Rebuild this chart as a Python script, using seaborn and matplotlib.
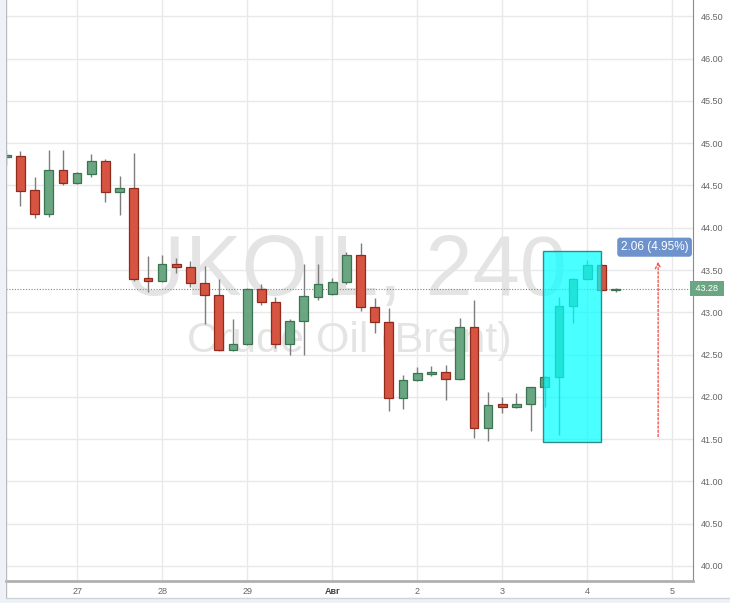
import numpy as np
import matplotlib
matplotlib.use("Agg")
import matplotlib.pyplot as plt
from matplotlib.patches import Rectangle
from matplotlib.lines import Line2D
import matplotlib.transforms as mtransforms
import seaborn as sns

# UKOIL 4h candles, 26 Jul - 4 Aug
opens  = [44.84, 44.85, 44.45, 44.16, 44.68, 44.53, 44.64, 44.79, 44.42, 44.47,
          43.40, 43.37, 43.57, 43.54, 43.35, 43.21, 42.55, 42.62, 43.27, 43.12,
          42.62, 42.90, 43.18, 43.22, 43.36, 43.68, 43.06, 42.88, 41.98, 42.20,
          42.27, 42.29, 42.21, 42.82, 41.63, 41.91, 41.88, 41.92, 42.11, 42.23,
          43.07, 43.39, 43.56, 43.26]
highs  = [44.92, 44.91, 44.60, 44.92, 44.92, 44.66, 44.87, 44.81, 44.61, 44.88,
          43.67, 43.68, 43.64, 43.61, 43.55, 43.39, 42.92, 43.29, 43.34, 43.18,
          42.92, 43.57, 43.57, 43.40, 43.71, 43.82, 43.17, 43.05, 42.26, 42.35,
          42.36, 42.38, 42.93, 43.15, 42.06, 42.00, 42.04, 42.12, 42.24, 43.18,
          43.40, 43.62, 43.58, 43.29]
lows   = [44.74, 44.26, 44.11, 44.13, 44.50, 44.52, 44.60, 44.31, 44.15, 43.37,
          43.24, 43.36, 43.47, 43.30, 42.86, 42.54, 42.54, 42.61, 43.09, 42.58,
          42.49, 42.50, 43.14, 43.21, 43.34, 43.02, 42.75, 41.83, 41.85, 42.19,
          42.25, 41.96, 42.20, 41.51, 41.48, 41.81, 41.87, 41.60, 41.88, 41.55,
          42.87, 43.39, 43.24, 43.24]
closes = [44.86, 44.44, 44.16, 44.68, 44.53, 44.65, 44.79, 44.42, 44.47, 43.39,
          43.37, 43.57, 43.54, 43.35, 43.21, 42.55, 42.62, 43.28, 43.12, 42.62,
          42.90, 43.19, 43.34, 43.36, 43.68, 43.06, 42.88, 41.98, 42.20, 42.28,
          42.29, 42.21, 42.82, 41.63, 41.90, 41.88, 41.92, 42.11, 42.23, 43.07,
          43.39, 43.56, 43.26, 43.28]

day_ticks   = [5, 11, 17, 23, 29, 35, 41, 47]
day_labels  = ["27", "28", "29", "Авг", "2", "3", "4", "5"]
price_ticks = [40.0, 40.5, 41.0, 41.5, 42.0, 42.5, 43.0, 43.5,
               44.0, 44.5, 45.0, 45.5, 46.0, 46.5]

last_price = 43.28
# highlighted range (candle index span, price span)
box_x = (37.9, 41.95)
box_y = (41.47, 43.725)
# measure tool
measure_x = 46
measure_y = (41.53, 43.60)
measure_label = "2.06 (4.95%)"
measure_label_pos = (45.75, 43.77)

RED, RED_EDGE = "#d65442", "#8f2a1d"
GREEN, GREEN_EDGE = "#6aa682", "#3b7450"

sns.set_style("white")
plt.rcParams["font.family"] = ["Liberation Sans", "DejaVu Sans"]

fig = plt.figure(figsize=(7.30, 6.03), dpi=100)
ax = fig.add_axes([5.5 / 730, 22 / 603, 687.5 / 730, 581 / 603])

o = np.array(opens); h = np.array(highs); l = np.array(lows); c = np.array(closes)
idx = np.arange(len(o))
up = c >= o
bottom = np.minimum(o, c)
height = np.maximum(np.abs(c - o), 0.012)

ax.vlines(idx, l, h, color="#7d7d7d", lw=1, zorder=2)
ax.bar(idx[up], height[up], bottom=bottom[up], width=0.62,
       color=GREEN, edgecolor=GREEN_EDGE, linewidth=0.9, zorder=3)
ax.bar(idx[~up], height[~up], bottom=bottom[~up], width=0.62,
       color=RED, edgecolor=RED_EDGE, linewidth=0.9, zorder=3)

# watermark
ax.text(0.495, 0.492, "UKOIL, 240", transform=ax.transAxes, fontsize=61,
        color="#e4e4e4", ha="center", va="baseline", zorder=1.5)
ax.text(0.4996, 0.394, "Crude Oil (Brent)", transform=ax.transAxes, fontsize=31,
        color="#e4e4e4", ha="center", va="baseline", zorder=1.5)

# last price line
ax.axhline(last_price, color="#5c9d70", ls=(0, (1, 1.5)), lw=0.8, zorder=2.5)

# highlight box
ax.add_patch(Rectangle((box_x[0], box_y[0]), box_x[1] - box_x[0], box_y[1] - box_y[0],
                       facecolor=(0, 1, 1, 0.71), edgecolor="#2f8c8c", lw=1, zorder=4))

# measure arrow + label
ax.annotate("", xy=(measure_x, measure_y[1]), xytext=(measure_x, measure_y[0]),
            arrowprops=dict(arrowstyle="->", color="#f2554f", lw=1,
                            linestyle=(0, (1.5, 1.5)), shrinkA=0, shrinkB=0),
            zorder=5)
ax.text(*measure_label_pos, measure_label, color="white", fontsize=8.5,
        ha="center", va="center", zorder=6,
        bbox=dict(boxstyle="round,pad=0.3,rounding_size=0.25", fc="#6e93cc", ec="none"))

# axes
ax.set_xlim(-0.05, 48.46)
ax.set_ylim(39.82, 46.695)
ax.set_xticks(day_ticks)
ax.set_xticklabels(day_labels)
ax.set_yticks(price_ticks)
ax.set_yticklabels([f"{p:.2f}" for p in price_ticks])
ax.yaxis.tick_right()
ax.grid(True, color="#e9e9e9", lw=1)
ax.set_axisbelow(True)
ax.tick_params(axis="y", direction="out", length=4, width=0.8, color="#888888",
               labelsize=6.5, labelcolor="#666666", pad=1.5)
ax.tick_params(axis="x", direction="out", length=3, width=0.8, color="#888888",
               labelsize=6.5, labelcolor="#666666", pad=1.5)
for t in ax.get_xticklabels():
    if t.get_text() == "Авг":
        t.set_fontweight("bold")
        t.set_color("#444444")

sns.despine(ax=ax, left=True, top=True, right=False, bottom=False)
ax.spines["right"].set_color("#8a8a8a")
ax.spines["right"].set_linewidth(0.8)
ax.spines["bottom"].set_color("#b0b0b0")
ax.spines["bottom"].set_linewidth(2)

# current price tag on the axis
trans = mtransforms.blended_transform_factory(ax.transAxes, ax.transData)
ax.text(1.0, last_price, " 43.28 ", transform=trans, color="white", fontsize=6.5,
        ha="left", va="center", zorder=6, clip_on=False,
        bbox=dict(boxstyle="square,pad=0.35", fc="#6aa682", ec="none"))

# outer frame
fig.patches.append(Rectangle((0, 0), 5 / 730, 1, transform=fig.transFigure,
                             fc="#eef2f6", ec="none", zorder=0))
fig.patches.append(Rectangle((0, 0), 1, 5 / 603, transform=fig.transFigure,
                             fc="#eef2f6", ec="none", zorder=0))
fig.lines.append(Line2D([5.5 / 730, 5.5 / 730], [5 / 603, 1], transform=fig.transFigure,
                        color="#b8bcc2", lw=1))
fig.lines.append(Line2D([5.5 / 730, 1], [5 / 603, 5 / 603], transform=fig.transFigure,
                        color="#d0d4d8", lw=1))

fig.savefig("out.png", dpi=100)
